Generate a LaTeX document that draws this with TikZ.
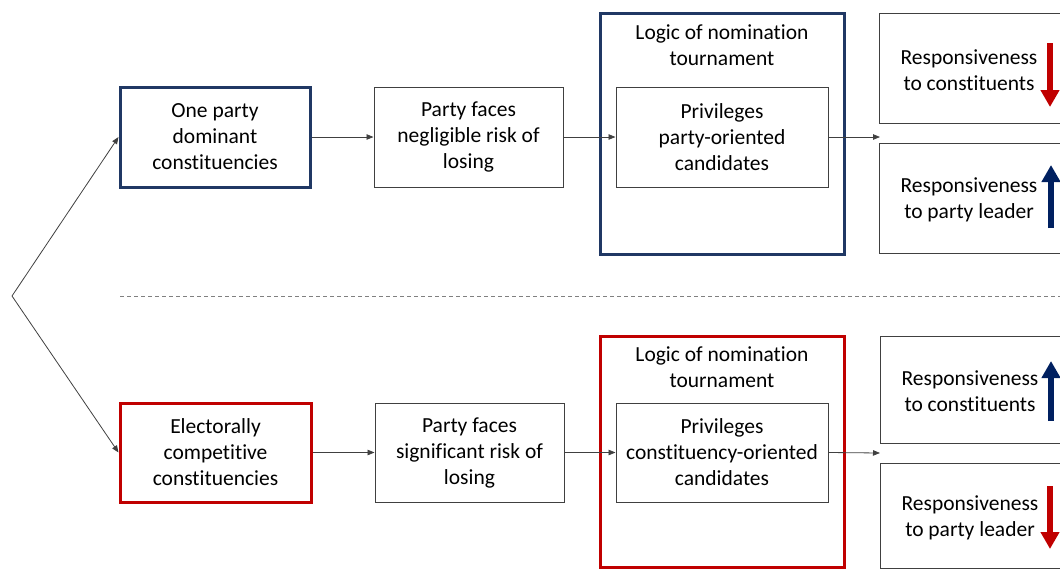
\documentclass[tikz,border=0pt]{standalone}
\usepackage{fontspec}
\setmainfont[Ligatures=NoCommon]{Carlito}
\usetikzlibrary{arrows.meta}
\definecolor{navy}{HTML}{203864}
\definecolor{darkred}{HTML}{C00000}
\definecolor{arrblue}{HTML}{002060}
\definecolor{boxgray}{HTML}{404040}
\tikzset{
  txt/.style={font=\fontsize{21.5}{26}\selectfont, align=center, text=black},
  plainbox/.style={txt, draw=boxgray, line width=1pt, inner sep=0pt},
  bluebox/.style={txt, draw=navy, line width=3pt, inner sep=0pt},
  redbox/.style={txt, draw=darkred, line width=3pt, inner sep=0pt},
  conn/.style={draw=boxgray, line width=0.8pt, -{Triangle[length=7pt,width=5.5pt]}},
  blockup/.style={line width=6.5pt, -{Triangle[length=17pt,width=18pt]}},
}
\begin{document}
\begin{tikzpicture}[x=1pt,y=-1pt]
\useasboundingbox (0,0) rectangle (1060,570);
\clip (0,0) rectangle (1060,570);

% ---------- top row ----------
\node[bluebox, minimum width=190, minimum height=100] (dom) at (215,137) {One party\\dominant\\constituencies};
\node[plainbox, minimum width=189, minimum height=100] (neg) at (468.5,137) {Party faces\\negligible risk of\\losing};
\node[bluebox, minimum width=244, minimum height=241] (logA) at (722,133.5) {};
\node[txt] (titA) at (722,45) {Logic of nomination\\tournament};
\node[plainbox, minimum width=212, minimum height=100] (privA) at (722,137) {Privileges\\party-oriented\\candidates};
\node[plainbox, minimum width=190, minimum height=110] (rA1) at (974,68) {};
\node[txt] (rA1t) at (969,70) {Responsiveness\\to constituents};
\node[plainbox, minimum width=190, minimum height=110] (rA2) at (974,198) {};
\node[txt] (rA2t) at (969,200) {Responsiveness\\to party leader};
\coordinate (outA) at (880,137);

% ---------- bottom row ----------
\node[redbox, minimum width=191, minimum height=99] (comp) at (215.5,452.5) {Electorally\\competitive\\constituencies};
\node[plainbox, minimum width=189, minimum height=99] (sig) at (469.5,452.5) {Party faces\\significant risk of\\losing};
\node[redbox, minimum width=244, minimum height=231] (logB) at (722,451.5) {};
\node[txt] (titB) at (722,367) {Logic of nomination\\tournament};
\node[plainbox, minimum width=212, minimum height=99] (privB) at (722,452.5) {Privileges\\constituency-oriented\\candidates};
\node[plainbox, minimum width=190, minimum height=107] (rB1) at (975,389.5) {};
\node[txt] (rB1t) at (970,391) {Responsiveness\\to constituents};
\node[plainbox, minimum width=190, minimum height=105] (rB2) at (975,515.5) {};
\node[txt] (rB2t) at (970,518) {Responsiveness\\to party leader};
\coordinate (outB) at (880,453);

% ---------- left branch ----------
\coordinate (apex) at (12,296);
\draw[conn] (apex) -- (dom.west);
\draw[conn] (apex) -- (comp.west);

% ---------- divider ----------
\coordinate (dl) at (120,296);
\coordinate (dr) at (1062,296);
\draw[gray, line width=0.8pt, dash pattern=on 4pt off 3pt] (dl) -- (dr);

% ---------- connectors ----------
\draw[conn] (dom) -- (neg);
\draw[conn] (neg) -- (privA);
\draw[conn] (privA.east) -- (outA);
\draw[conn] (comp) -- (sig);
\draw[conn] (sig) -- (privB);
\draw[conn] (privB.east) -- (outB);

% ---------- block arrows ----------
\coordinate (a1s) at (1050,43);  \coordinate (a1e) at (1050,107);
\coordinate (a2s) at (1051,228); \coordinate (a2e) at (1051,165);
\coordinate (b1s) at (1051,421); \coordinate (b1e) at (1051,361);
\coordinate (b2s) at (1050,486); \coordinate (b2e) at (1050,549);
\draw[blockup, darkred, -{Triangle[length=17pt,width=18pt,fill=darkred]}] (a1s) -- (a1e);
\draw[blockup, arrblue, -{Triangle[length=17pt,width=18pt,fill=arrblue]}] (a2s) -- (a2e);
\draw[blockup, arrblue, -{Triangle[length=17pt,width=18pt,fill=arrblue]}] (b1s) -- (b1e);
\draw[blockup, darkred, -{Triangle[length=17pt,width=18pt,fill=darkred]}] (b2s) -- (b2e);
\end{tikzpicture}
\end{document}
